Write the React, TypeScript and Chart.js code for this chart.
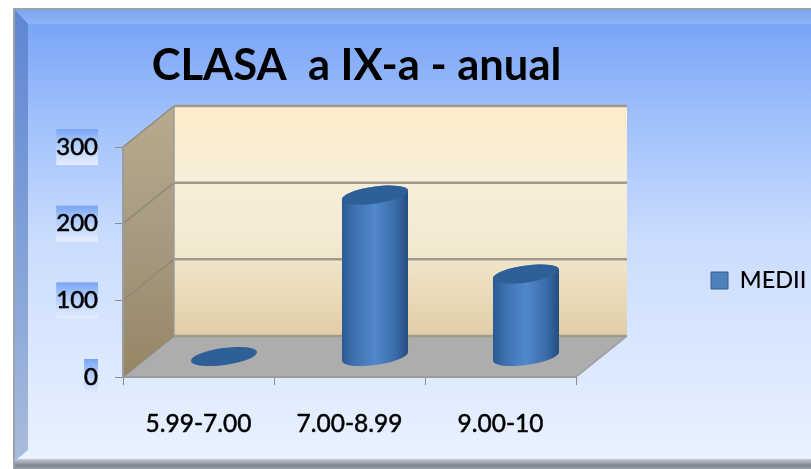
import React, { useEffect, useRef } from "react";
import { Chart, registerables } from "chart.js";

Chart.register(...registerables);

const categories = ["5.99-7.00", "7.00-8.99", "9.00-10"];
const seriesName = "MEDII";
const medii = [0, 210.5, 107.5];
const axisMax = 300;
const axisStep = 100;
const chartTitle = "CLASA  a IX-a - anual";

const DEPTH_X = 51;
const DEPTH_Y = -41;
const TILT = -0.14;
const FONT = "Lato, 'Open Sans', sans-serif";

const framePlugin = {
  id: "frame",
  afterLayout(chart: any) {
    const t = chart.titleBlock;
    const shiftT = 356.5 - (t.left + t.right) / 2;
    t.left += shiftT;
    t.right += shiftT;
    const l = chart.legend;
    const dx = 701 - l.left;
    const dy = 26;
    l.left += dx;
    l.right += dx;
    l.top += dy;
    l.bottom += dy;
  },
  beforeDraw(chart: any) {
    const c = chart.ctx as CanvasRenderingContext2D;
    const W = chart.width;
    c.save();
    c.fillStyle = "#ffffff";
    c.fillRect(0, 0, W, chart.height);

    const bg = (y0: number, y1: number) => {
      const g = c.createLinearGradient(0, y0, 0, y1);
      g.addColorStop(0, "#7aa5f6");
      g.addColorStop(0.22, "#a0c1fb");
      g.addColorStop(0.5, "#cbdcfd");
      g.addColorStop(1, "#e9f2ff");
      return g;
    };
    // outer grey line
    c.fillStyle = "#9aa2ae";
    c.fillRect(13, 8, W - 13, 461);
    // body
    c.fillStyle = bg(24, 460);
    c.fillRect(15, 10, W - 15, 451);
    // bevels
    const top = c.createLinearGradient(0, 10, 0, 24);
    top.addColorStop(0, "#7ea7f0");
    top.addColorStop(1, "#8eb3f8");
    c.fillStyle = top;
    c.beginPath();
    c.moveTo(15, 10);
    c.lineTo(W, 10);
    c.lineTo(W, 24);
    c.lineTo(28, 24);
    c.closePath();
    c.fill();
    const left = c.createLinearGradient(0, 10, 0, 460);
    left.addColorStop(0, "#5f86d2");
    left.addColorStop(0.5, "#7f9fd8");
    left.addColorStop(1, "#a9bcdc");
    c.fillStyle = left;
    c.beginPath();
    c.moveTo(15, 10);
    c.lineTo(28, 24);
    c.lineTo(28, 450);
    c.lineTo(15, 461);
    c.closePath();
    c.fill();
    const bot = c.createLinearGradient(0, 459, 0, 469);
    bot.addColorStop(0, "#c4cad4");
    bot.addColorStop(0.65, "#7e8590");
    bot.addColorStop(1, "#9aa0aa");
    c.fillStyle = bot;
    c.fillRect(15, 459, W - 15, 10);

    const ys = chart.scales.y;
    const L = chart.chartArea.left;
    const R = chart.chartArea.right;
    const py = (v: number) => ys.getPixelForValue(v);
    const y0 = py(0);
    const yTop = py(axisMax);

    // y tick label backdrops
    ys.ticks.forEach((tk: any) => {
      const y = py(tk.value);
      c.font = `24px ${FONT}`;
      const w = c.measureText(String(tk.label)).width;
      const g = c.createLinearGradient(0, y - 18, 0, y + 18);
      g.addColorStop(0, "#78a4f5");
      g.addColorStop(0.4, "#b0ccfb");
      g.addColorStop(1, "#e4eeff");
      c.fillStyle = g;
      c.fillRect(98 - w, y - 18, w, 36);
    });

    // side wall
    const side = c.createLinearGradient(0, yTop + DEPTH_Y, 0, y0);
    side.addColorStop(0, "#b8aa8e");
    side.addColorStop(0.5, "#a59a80");
    side.addColorStop(1, "#978565");
    c.fillStyle = side;
    c.beginPath();
    c.moveTo(L, yTop);
    c.lineTo(L + DEPTH_X, yTop + DEPTH_Y);
    c.lineTo(L + DEPTH_X, y0 + DEPTH_Y);
    c.lineTo(L, y0);
    c.closePath();
    c.fill();
    // back wall
    const back = c.createLinearGradient(0, yTop + DEPTH_Y, 0, y0 + DEPTH_Y);
    back.addColorStop(0, "#feedcb");
    back.addColorStop(0.35, "#f7eeda");
    back.addColorStop(0.6, "#f3ead2");
    back.addColorStop(0.85, "#e8d8b5");
    back.addColorStop(1, "#e0cea8");
    c.fillStyle = back;
    c.fillRect(L + DEPTH_X, yTop + DEPTH_Y, R - L, y0 - yTop);
    // floor
    c.fillStyle = "#adadad";
    c.beginPath();
    c.moveTo(L, y0);
    c.lineTo(L + DEPTH_X, y0 + DEPTH_Y);
    c.lineTo(R + DEPTH_X, y0 + DEPTH_Y);
    c.lineTo(R, y0);
    c.closePath();
    c.fill();
    // gridlines
    c.lineCap = "butt";
    ys.ticks.forEach((tk: any) => {
      const y = py(tk.value);
      c.strokeStyle = "#a29a89";
      c.lineWidth = 2.5;
      c.beginPath();
      c.moveTo(L + DEPTH_X, y + DEPTH_Y);
      c.lineTo(R + DEPTH_X, y + DEPTH_Y);
      c.stroke();
      c.strokeStyle = "#918a78";
      c.lineWidth = 1.5;
      c.beginPath();
      c.moveTo(L, y);
      c.lineTo(L + DEPTH_X, y + DEPTH_Y);
      c.stroke();
    });
    // wall edges
    c.strokeStyle = "#9c9c9c";
    c.lineWidth = 1.5;
    c.beginPath();
    c.moveTo(L + DEPTH_X, yTop + DEPTH_Y);
    c.lineTo(L + DEPTH_X, y0 + DEPTH_Y);
    c.moveTo(R, y0);
    c.lineTo(R + DEPTH_X, y0 + DEPTH_Y);
    c.stroke();
    c.restore();
  },
  afterDatasetsDraw(chart: any) {
    const c = chart.ctx as CanvasRenderingContext2D;
    const meta = chart.getDatasetMeta(0);
    const base = chart.scales.y.getPixelForValue(0) + DEPTH_Y / 2;
    c.save();
    meta.data.forEach((el: any) => {
      const cx = el.x + DEPTH_X / 2;
      const topY = el.y + DEPTH_Y / 2;
      const halfW = el.width / 2;
      const rx = halfW / Math.cos(TILT);
      const ry = 8.5;
      const t0 = Math.atan2(-ry * Math.sin(TILT), rx * Math.cos(TILT));
      if (Math.abs(base - topY) > 0.5) {
        const g = c.createLinearGradient(cx - halfW, 0, cx + halfW, 0);
        g.addColorStop(0, "#2c5a92");
        g.addColorStop(0.2, "#3f72b2");
        g.addColorStop(0.5, "#5088ca");
        g.addColorStop(0.8, "#3c6dac");
        g.addColorStop(1, "#234c80");
        c.fillStyle = g;
        c.beginPath();
        c.ellipse(cx, base, rx, ry, TILT, t0, t0 + Math.PI);
        c.ellipse(cx, topY, rx, ry, TILT, t0 + Math.PI, t0 + 2 * Math.PI);
        c.closePath();
        c.fill();
      }
      c.fillStyle = "#2f5f97";
      c.beginPath();
      c.ellipse(cx, topY, rx, ry, TILT, 0, 2 * Math.PI);
      c.fill();
    });
    c.restore();
  },
};

export default function App() {
  const ref = useRef<HTMLCanvasElement>(null);
  useEffect(() => {
    const chart = new Chart(ref.current as HTMLCanvasElement, {
      type: "bar",
      data: {
        labels: categories,
        datasets: [
          {
            label: seriesName,
            data: medii,
            backgroundColor: "rgba(0,0,0,0)",
            borderWidth: 0,
            barPercentage: 0.437,
            categoryPercentage: 1,
          },
        ],
      },
      plugins: [framePlugin],
      options: {
        responsive: false,
        animation: false,
        layout: { padding: { left: 10, right: 110, top: 40, bottom: 0 } },
        plugins: {
          tooltip: { enabled: false },
          title: {
            display: true,
            text: chartTitle,
            color: "#000000",
            font: { family: FONT, size: 43.5, weight: "bold", lineHeight: 1.2 },
            padding: { top: 0, bottom: 54.8 },
          },
          legend: {
            display: true,
            position: "right",
            labels: {
              color: "#000000",
              font: { family: FONT, size: 23.5, weight: "500" },
              boxWidth: 17,
              boxHeight: 17,
              padding: 10,
              generateLabels: () => [
                {
                  text: seriesName,
                  fillStyle: "#4f81bd",
                  strokeStyle: "#385d8a",
                  lineWidth: 1,
                  datasetIndex: 0,
                },
              ],
            },
          },
        },
        scales: {
          x: {
            offset: true,
            afterFit: (s: any) => {
              s.height = 92;
            },
            grid: {
              offset: true,
              drawOnChartArea: false,
              drawTicks: true,
              tickLength: 8,
              tickColor: "#8c8c8c",
            },
            border: { display: true, color: "#9c9c9c", width: 2 },
            ticks: {
              color: "#000000",
              font: { family: FONT, size: 24.5 },
              textStrokeColor: "#000000",
              textStrokeWidth: 0.5,
              padding: 24,
              maxRotation: 0,
            },
          },
          y: {
            min: 0,
            max: axisMax,
            afterFit: (s: any) => {
              s.width = 113;
            },
            grid: {
              drawOnChartArea: false,
              drawTicks: true,
              tickLength: 8,
              tickColor: "#8c8c8c",
            },
            border: { display: true, color: "#9c9c9c", width: 2 },
            ticks: {
              stepSize: axisStep,
              color: "#000000",
              font: { family: FONT, size: 24 },
              textStrokeColor: "#000000",
              textStrokeWidth: 0.6,
              padding: 17,
            },
          },
        },
      },
    } as any);
    const legendW = (chart as any).legend.width;
    (chart.options as any).layout.padding.right = 235 - legendW;
    chart.update();
    return () => chart.destroy();
  }, []);
  return (
    <canvas
      ref={ref}
      width={811}
      height={469}
      style={{ position: "fixed", left: 0, top: 0, display: "block", filter: "blur(0.5px)" }}
    />
  );
}
